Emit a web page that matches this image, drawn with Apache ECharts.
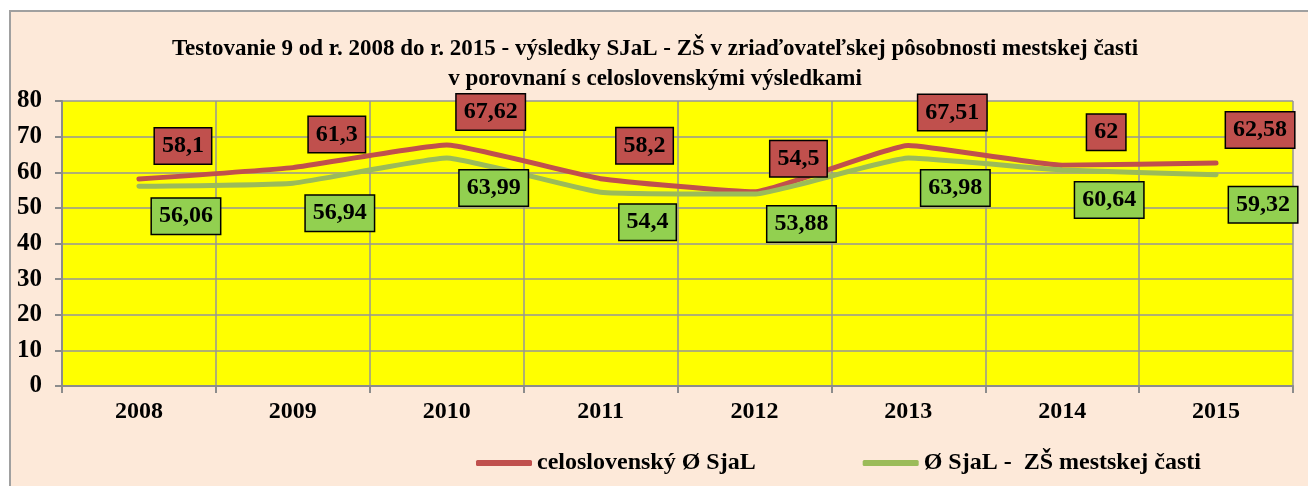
<!DOCTYPE html>
<html>
<head>
<meta charset="utf-8">
<script src="https://cdn.jsdelivr.net/npm/echarts@6/dist/echarts.min.js"></script>
<style>
  html, body { margin: 0; padding: 0; background: #fff; overflow: hidden; }
  #frame { position: absolute; left: 9px; top: 10px; width: 1320px; height: 500px;
           border: 2px solid #a0a0a0; background: #fde9d9; }
  #chart { position: absolute; left: 0; top: 0; width: 1308px; height: 486px; }
</style>
</head>
<body>
<div id="frame"></div>
<div id="chart"></div>
<script>
const years = ["2008", "2009", "2010", "2011", "2012", "2013", "2014", "2015"];
const slovakAvg = [58.1, 61.3, 67.62, 58.2, 54.5, 67.51, 62, 62.58];
const districtAvg = [56.06, 56.94, 63.99, 54.4, 53.88, 63.98, 60.64, 59.32];
const seriesNames = ["celoslovenský Ø SjaL", "Ø SjaL -  ZŠ mestskej časti"];

const serif = "'Liberation Serif', 'Times New Roman', serif";

function fmt(v) {
  return String(v).replace(".", ",");
}

function makeSeries(name, data, lineColor, boxColor, offset) {
  return {
    name: name,
    type: "line",
    data: data,
    smooth: 0.12,
    symbol: "circle",
    symbolSize: 0.1,
    showSymbol: true,
    lineStyle: { color: lineColor, width: 5, cap: "round" },
    itemStyle: { color: lineColor },
    label: {
      show: true,
      position: "inside",
      offset: offset,
      formatter: p => fmt(p.value),
      fontFamily: serif,
      fontWeight: "bold",
      fontSize: 24,
      lineHeight: 24,
      color: "#000",
      backgroundColor: boxColor,
      borderColor: "#000",
      borderWidth: 1.5,
      padding: [6, 7, 5, 7]
    }
  };
}

const myChart = echarts.init(document.getElementById("chart"));

const option = {
  backgroundColor: "transparent",
  animation: false,
  title: {
    text: "Testovanie 9 od r. 2008 do r. 2015 - výsledky SJaL - ZŠ v zriaďovateľskej pôsobnosti mestskej časti\nv porovnaní s celoslovenskými výsledkami",
    left: 650,
    textAlign: "center",
    top: 29,
    textStyle: {
      fontFamily: serif,
      fontWeight: "bold",
      fontSize: 23,
      lineHeight: 30,
      color: "#000"
    }
  },
  legend: {
    left: 471,
    top: 446,
    icon: "roundRect",
    itemWidth: 56,
    itemHeight: 6,
    itemGap: 107,
    data: seriesNames,
    textStyle: { fontFamily: serif, fontWeight: "bold", fontSize: 24, color: "#000" }
  },
  grid: {
    left: 62,
    top: 101,
    width: 1231,
    height: 285,
    show: true,
    backgroundColor: "#ffff00",
    borderWidth: 0
  },
  xAxis: {
    type: "category",
    data: years,
    boundaryGap: true,
    axisLine: { lineStyle: { color: "#8c8c8c", width: 2 } },
    axisTick: { show: true, length: 7, lineStyle: { color: "#8c8c8c", width: 2 } },
    splitLine: { show: true, lineStyle: { color: "#969696", width: 1.5 } },
    axisLabel: {
      margin: 14,
      fontFamily: serif,
      fontWeight: "bold",
      fontSize: 24,
      color: "#000"
    }
  },
  yAxis: {
    type: "value",
    min: 0,
    max: 80,
    interval: 10,
    axisLine: { show: true, lineStyle: { color: "#8c8c8c", width: 2 } },
    axisTick: { show: true, length: 7, lineStyle: { color: "#8c8c8c", width: 2 } },
    splitLine: { show: true, lineStyle: { color: "#969696", width: 1.5 } },
    axisLabel: {
      margin: 20,
      fontFamily: serif,
      fontWeight: "bold",
      fontSize: 25,
      color: "#000"
    }
  },
  series: [
    makeSeries(seriesNames[0], slovakAvg, "#c0504d", "#c0504d", [44, -33]),
    makeSeries(seriesNames[1], districtAvg, "#9bbb59", "#92d050", [47, 30])
  ]
};

myChart.setOption(option);
</script>
</body>
</html>
